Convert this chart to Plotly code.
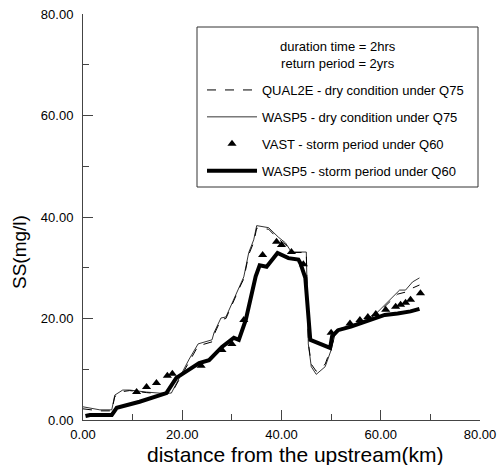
import plotly.graph_objects as go

# WASP5 - dry condition under Q75 (thin line)
wasp_dry_x = [0, 3.4, 5.8, 6.4, 8, 9.4, 12.8, 15.4, 17.8, 19.4, 21.4, 23.2, 26, 26.4, 27.8, 28.8,
              31.8, 32.4, 33.4, 34.4, 35, 37.4, 39.4, 40.8, 42, 45, 45.4, 46, 47, 48.8, 50, 51,
              54, 57, 59.4, 61.4, 63.8, 65, 66.4, 67.8]
wasp_dry_y = [2.6, 2, 2, 4.9, 5.9, 5.9, 5.5, 5.3, 5.3, 8.3, 12, 15, 15.8, 17.2, 20.1, 20.3,
              27, 28.2, 33, 35.5, 38.3, 37.9, 36, 34.9, 33.1, 33.1, 15, 10.5, 9, 10.5, 13.8, 17.7,
              18.7, 19.8, 21.3, 23.3, 25.6, 25.6, 27.2, 28]

# QUAL2E - dry condition under Q75 (dashed line)
qual_x = [0, 3.4, 5.8, 6.4, 8, 9.4, 12.8, 15.4, 17.8, 19.4, 21.4, 23.2, 26, 26.4, 27.8, 28.8,
          31.8, 32.4, 33.4, 34.4, 35, 37.4, 39.4, 40.8, 42, 45, 45.4, 46, 47, 48.8, 50, 51,
          54, 57, 59.4, 61.4, 63.4, 65, 66.4, 67.8]
qual_y = [2.2, 1.8, 1.8, 4.6, 5.6, 5.8, 5.4, 5.2, 5.2, 8.0, 11.6, 14.6, 15.4, 16.8, 19.8, 20.0,
          26.6, 27.8, 32.6, 35.0, 37.8, 37.6, 35.6, 34.6, 33.0, 33.0, 15.2, 11.0, 9.6, 11.0, 14.2, 17.4,
          18.5, 19.6, 21.0, 22.8, 24.8, 25.2, 26.0, 26.6]

# VAST - storm period under Q60 (triangles)
vast_x = [10.8, 12.8, 14.8, 17, 18, 23.8, 28, 30, 32.4, 36.2, 39, 40, 42, 44.4,
          50, 53.8, 55.8, 57.4, 59, 61, 63, 64, 65, 66, 68]
vast_y = [5.5, 6.5, 7.3, 8.7, 9.1, 10.7, 13.8, 15, 19.7, 32.5, 35.1, 34.5, 33.1, 30.7,
          17.2, 19, 19.7, 20.3, 20.9, 21.7, 22.3, 22.7, 23.1, 23.7, 25]

# WASP5 - storm period under Q60 (thick line)
wasp_storm_x = [0.5, 1.4, 5.8, 6.8, 11.4, 16.8, 18.8, 21.4, 23.4, 25.4, 28, 30.4, 31.4, 32.8,
                33.8, 34.8, 35.6, 37, 38.4, 39.2, 41.4, 43.4, 43.8, 44.8, 45.8, 49.8, 50.2, 51.4,
                54, 56.8, 60.8, 63.4, 66, 67.8]
wasp_storm_y = [0.8, 1, 1, 2.4, 3.6, 5.3, 8.3, 9.9, 11.2, 11.8, 14.4, 16.2, 15.8, 19.7,
                23.7, 28.3, 30.5, 30.2, 31.9, 32.9, 31.9, 31.6, 30.9, 28, 15.8, 14.2, 16.5, 17.7,
                18.4, 19.3, 20.7, 21, 21.4, 21.9]

tick_vals = [0, 20, 40, 60, 80]
tick_text = ["0.00", "20.00", "40.00", "60.00", "80.00"]

FONT = "Liberation Sans, Arial"
W, H = 498, 465
ML, MR, MT, MB = 83, 18, 14, 45
PW, PH = W - ML - MR, H - MT - MB


def px_x(p):
    return (p - ML) / PW


def px_y(p):
    return 1 - (p - MT) / PH


fig = go.Figure()
fig.add_trace(go.Scatter(x=qual_x, y=qual_y, mode="lines", name="QUAL2E - dry condition under Q75",
                         line=dict(color="black", width=1, dash="dash"), legendgroup="a"))
fig.add_trace(go.Scatter(x=wasp_dry_x, y=wasp_dry_y, mode="lines", name="WASP5 - dry condition under Q75",
                         line=dict(color="black", width=0.8), legendgroup="b"))
fig.add_trace(go.Scatter(x=vast_x, y=vast_y, mode="markers", name="VAST - storm period under Q60",
                         marker=dict(symbol="triangle-up", size=8, color="black"), legendgroup="c"))
fig.add_trace(go.Scatter(x=wasp_storm_x, y=wasp_storm_y, mode="lines", name="WASP5 - storm period under Q60",
                         line=dict(color="black", width=4), legendgroup="d"))

axis_common = dict(range=[0, 80], tickvals=tick_vals, ticktext=tick_text, showgrid=False, zeroline=False,
                   showline=True, linecolor="#444", linewidth=1, ticks="inside", ticklen=10,
                   tickcolor="#444", minor=dict(ticks="inside", ticklen=6, dtick=10, tickcolor="#444"),
                   tickfont=dict(family=FONT, size=13, color="black"), automargin=False)

fig.update_layout(
    width=W, height=H,
    margin=dict(l=ML, r=MR, t=MT, b=MB, autoexpand=False),
    paper_bgcolor="white", plot_bgcolor="white",
    xaxis=dict(**axis_common, ticklabelstandoff=2),
    yaxis=dict(**axis_common, ticklabelstandoff=6),
    legend=dict(x=px_x(202), y=px_y(75), xanchor="left", yanchor="top",
                borderwidth=0, bgcolor="rgba(0,0,0,0)",
                font=dict(family=FONT, size=13, color="black"),
                tracegroupgap=7, itemwidth=50),
    showlegend=True,
    shapes=[dict(type="rect", xref="paper", yref="paper",
                 x0=px_x(197), x1=px_x(478), y0=px_y(187), y1=px_y(27),
                 line=dict(color="#333", width=1), fillcolor="rgba(0,0,0,0)")],
    annotations=[
        dict(text="duration time = 2hrs<br>return period = 2yrs", xref="paper", yref="paper",
             x=px_x(338), y=px_y(55), xanchor="center", yanchor="middle", showarrow=False,
             font=dict(family=FONT, size=13, color="black")),
        dict(text="distance from the upstream(km)", xref="paper", yref="paper",
             x=px_x(295), y=px_y(454), xanchor="center", yanchor="middle", showarrow=False,
             font=dict(family=FONT, size=21, color="black")),
        dict(text="SS(mg/l)", xref="paper", yref="paper", textangle=-90,
             x=px_x(20), y=px_y(252), xanchor="center", yanchor="middle", showarrow=False,
             font=dict(family=FONT, size=19, color="black")),
    ],
)

fig.write_html("out.html")
